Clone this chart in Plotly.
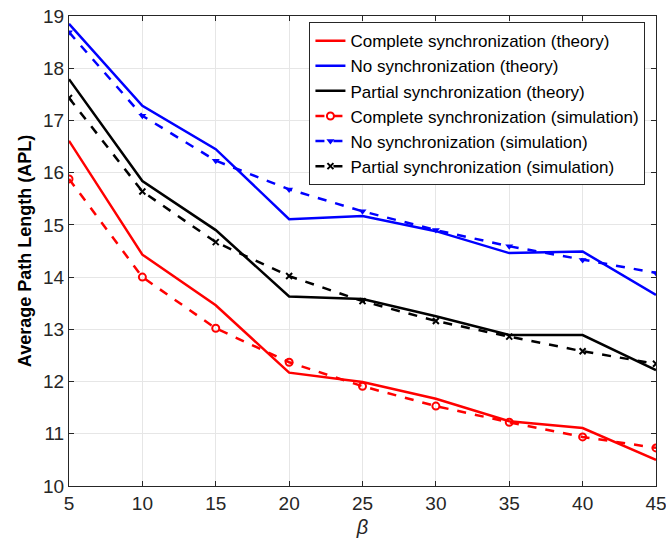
import plotly.graph_objects as go

beta = [5, 10, 15, 20, 25, 30, 35, 40, 45]

complete_theory = [16.61, 14.43, 13.46, 12.17, 11.99, 11.67, 11.24, 11.11, 10.50]
no_theory = [18.85, 17.28, 16.45, 15.11, 15.17, 14.88, 14.46, 14.49, 13.66]
partial_theory = [17.79, 15.84, 14.90, 13.63, 13.58, 13.25, 12.89, 12.89, 12.22]

complete_sim = [15.88, 14.00, 13.02, 12.37, 11.91, 11.53, 11.22, 10.94, 10.73]
no_sim = [18.69, 17.09, 16.23, 15.68, 15.26, 14.90, 14.59, 14.33, 14.08]
partial_sim = [17.43, 15.64, 14.67, 14.02, 13.54, 13.16, 12.86, 12.58, 12.34]

x_ticks = [5, 10, 15, 20, 25, 30, 35, 40, 45]
y_ticks = [10, 11, 12, 13, 14, 15, 16, 17, 18, 19]

RED = "#ff0000"
BLUE = "#0000ff"
BLACK = "#000000"

fig = go.Figure()

fig.add_trace(go.Scatter(x=beta, y=complete_theory, mode="lines",
                         line=dict(color=RED, width=2.5),
                         name="Complete synchronization (theory)"))
fig.add_trace(go.Scatter(x=beta, y=no_theory, mode="lines",
                         line=dict(color=BLUE, width=2.5),
                         name="No synchronization (theory)"))
fig.add_trace(go.Scatter(x=beta, y=partial_theory, mode="lines",
                         line=dict(color=BLACK, width=2.5),
                         name="Partial synchronization (theory)"))
fig.add_trace(go.Scatter(x=beta, y=complete_sim, mode="lines+markers",
                         line=dict(color=RED, width=2.5, dash="dash"),
                         marker=dict(symbol="circle-open", size=7, color=RED, line=dict(width=2)),
                         name="Complete synchronization (simulation)"))
fig.add_trace(go.Scatter(x=beta, y=no_sim, mode="lines+markers",
                         line=dict(color=BLUE, width=2.5, dash="dash"),
                         marker=dict(symbol="triangle-down", size=7, color=BLUE),
                         name="No synchronization (simulation)"))
fig.add_trace(go.Scatter(x=beta, y=partial_sim, mode="lines+markers",
                         line=dict(color=BLACK, width=2.5, dash="dash"),
                         marker=dict(symbol="x-thin-open", size=6, color=BLACK, line=dict(width=2, color=BLACK)),
                         name="Partial synchronization (simulation)"))

axis_common = dict(
    showgrid=True, gridcolor="#e6e6e6", gridwidth=1,
    showline=True, linecolor="#262626", linewidth=1, mirror="ticks",
    ticks="inside", ticklen=5, tickcolor="#262626",
    tickfont=dict(family="Liberation Sans, Arial, sans-serif", size=19, color="#262626"),
    zeroline=False, automargin=False, ticklabeloverflow="allow",
)

fig.update_layout(
    template="none",
    width=666, height=538,
    margin=dict(l=69, r=10, t=16, b=52, autoexpand=False),
    paper_bgcolor="white", plot_bgcolor="white",
    font=dict(family="Liberation Sans, Arial, sans-serif", color="#262626"),
    xaxis=dict(range=[5, 45], tickvals=x_ticks,
               title=dict(text="<i>β</i>", font=dict(size=20, color="#262626"), standoff=8),
               **axis_common),
    yaxis=dict(range=[10, 19], tickvals=y_ticks,
               title=dict(text="<b>Average Path Length (APL)</b>", font=dict(size=18, color="#000000"), standoff=6),
               **axis_common),
    legend=dict(x=0.982, y=0.987, xanchor="right", yanchor="top",
                bgcolor="white", bordercolor="#262626", borderwidth=1,
                font=dict(size=17, color="#000000"),
                tracegroupgap=0, itemwidth=30),
    showlegend=True,
)

fig.write_html("out.html",
               config={"displayModeBar": False},
               post_script="document.body.style.margin='0';document.body.style.overflow='hidden';")
